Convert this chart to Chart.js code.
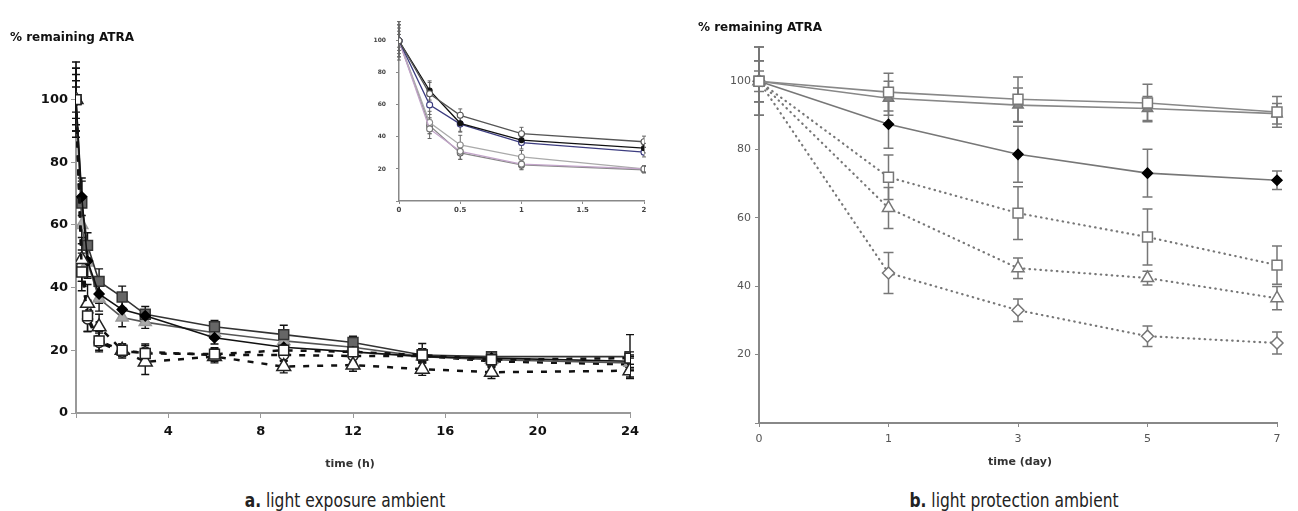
<!DOCTYPE html>
<html>
<head>
<meta charset="utf-8">
<script src="https://cdn.jsdelivr.net/npm/chart.js@4"></script>
<style>
  body { margin: 0; background: #fff; }
  #wrap { position: relative; width: 1298px; height: 511px; background: #fff; overflow: hidden; }
  canvas { position: absolute; }
  .lbl { position: absolute; font-family: "DejaVu Sans", sans-serif; font-weight: bold; color: #111; white-space: nowrap; }
  .mid { transform: translate(-50%, -50%); }
  .cap { position: absolute; font-family: "Liberation Sans Narrow", "DejaVu Sans Condensed", sans-serif; font-size: 20px; color: #222; white-space: nowrap; transform: translate(-50%, -50%) scaleX(0.86); }
</style>
</head>
<body>
<div id="wrap">
  <canvas id="chartA" width="660" height="480" style="left:0;top:0"></canvas>
  <canvas id="inset" width="295" height="215" style="left:360px;top:8px"></canvas>
  <canvas id="chartB" width="608" height="480" style="left:690px;top:0"></canvas>

  <div class="lbl" style="left:10px;top:30px;font-size:12px">% remaining ATRA</div>
  <div class="lbl" style="left:698px;top:20px;font-size:12px">% remaining ATRA</div>
  <div class="lbl mid" style="left:350px;top:463px;font-size:11px;color:#333">time (h)</div>
  <div class="lbl mid" style="left:1020px;top:461px;font-size:11px;color:#333">time (day)</div>
  <div class="cap" style="left:345px;top:500px"><b>a.</b> light exposure ambient</div>
  <div class="cap" style="left:1014px;top:500px"><b>b.</b> light protection ambient</div>
</div>

<script>
// panel a: light exposure, time in hours
const hours = [0, 0.25, 0.5, 1, 2, 3, 6, 9, 12, 15, 18, 24];
const aSquare   = [100, 67, 53.5, 42, 37, 31.5, 27.5, 25, 22.5, 18.5, 18, 18];
const aDiamond  = [100, 69, 48.5, 38, 33, 31, 24, 21, 19.5, 18, 17.5, 16.5];
const aTriangle = [100, 60, 48, 36.5, 30.5, 29, 25.6, 23, 21, 18, 17, 16];
const aOpenSq   = [100, 45, 31, 23, 20, 19, 18.8, 20, 19.5, 18.5, 17, 17.5];
const aOpenTri  = [100, 49, 35, 27.5, 20, 16.3, 18, 14.8, 15.3, 14, 13, 13.5];
const aOpenCirc = [100, 47, 30, 22.5, 19.5, 19.5, 18.5, 18.5, 18.2, 18.2, 16.5, 15.5];
const aSquareErr   = [12, 7, 4, 4, 3.5, 2.5, 2, 3, 2, 2, 1.5, 7];
const aDiamondErr  = [10, 6, 5, 3, 3, 2, 2, 2, 2, 2, 1.5, 2];
const aTriangleErr = [8, 6, 5, 4, 3, 2, 2, 2, 1.5, 2, 1.5, 2];
const aOpenSqErr   = [6, 6, 5, 3, 2, 3, 2, 2, 2, 2, 2, 2];
const aOpenTriErr  = [10, 7, 6, 4, 2, 4, 2, 2, 2, 2, 2, 2];
const aOpenCircErr = [4, 5, 4, 3, 2, 2, 2, 2, 2, 4, 2, 2];
const aXTicks = [0, 4, 8, 12, 16, 20, 24];
const insetHours = 5; // inset shows the first 0..2 h points

// panel b: light protection, time in days
const days = ['0', '1', '3', '5', '7'];
const bSquare   = [100, 96.8, 94.7, 93.6, 91];
const bTriangle = [100, 95, 93, 92, 90.5];
const bDiamond  = [100, 87.4, 78.6, 73.1, 71];
const bOpenSq   = [100, 71.9, 61.4, 54.4, 46.2];
const bOpenTri  = [100, 62.9, 45.3, 42.4, 36.5];
const bOpenDia  = [100, 43.9, 33, 25.4, 23.4];
const bSquareErr   = [10, 5.5, 6.5, 5.5, 4.5];
const bTriangleErr = [6, 5, 5, 3.5, 3];
const bDiamondErr  = [3, 7, 8.2, 7, 2.7];
const bOpenSqErr   = [6, 6.5, 7.7, 8.2, 5.6];
const bOpenTriErr  = [6, 6, 3, 2, 3.4];
const bOpenDiaErr  = [10, 6, 3.3, 3, 3.2];

const errorBars = {
  id: 'errorBars',
  beforeDatasetsDraw(chart, args, opts) {
    const ctx = chart.ctx, ys = chart.scales.y;
    chart.data.datasets.forEach((ds, i) => {
      if (!ds.errors) return;
      const meta = chart.getDatasetMeta(i);
      ctx.save();
      ctx.strokeStyle = ds.errColor || opts.color;
      ctx.lineWidth = opts.width;
      meta.data.forEach((pt, j) => {
        const raw = ds.data[j];
        const v = typeof raw === 'object' ? raw.y : raw;
        const e = ds.errors[j];
        if (!e) return;
        const top = ys.getPixelForValue(v + e), bot = ys.getPixelForValue(v - e);
        ctx.beginPath();
        ctx.moveTo(pt.x, top); ctx.lineTo(pt.x, bot);
        ctx.moveTo(pt.x - opts.cap, top); ctx.lineTo(pt.x + opts.cap, top);
        ctx.moveTo(pt.x - opts.cap, bot); ctx.lineTo(pt.x + opts.cap, bot);
        ctx.stroke();
      });
      ctx.restore();
    });
  }
};

const pts = (xs, ys, n) => ys.slice(0, n || ys.length).map((y, i) => ({ x: xs[i], y }));

function mk(data, errors, line, shape, radius, fill, border, dash, extra) {
  return Object.assign({
    data, errors,
    borderColor: line, borderWidth: 1.6, borderDash: dash || [],
    pointStyle: shape, pointRadius: radius, pointHoverRadius: radius,
    pointBackgroundColor: fill, pointBorderColor: border, pointBorderWidth: 1.5,
    tension: 0, fill: false
  }, extra || {});
}

const dashA = [6, 8];
new Chart(document.getElementById('chartA'), {
  type: 'line',
  data: {
    datasets: [
      mk(pts(hours, aOpenSq), aOpenSqErr, '#111', 'rect', 7, '#fff', '#222', dashA, { borderWidth: 2.5 }),
      mk(pts(hours, aOpenTri), aOpenTriErr, '#111', 'triangle', 8, '#fff', '#222', dashA, { borderWidth: 2.5 }),
      mk(pts(hours, aDiamond), aDiamondErr, '#111', 'rectRot', 5, '#000', '#000'),
      mk(pts(hours, aSquare), aSquareErr, '#333', 'rect', 7, '#666', '#333'),
      mk(pts(hours, aTriangle), aTriangleErr, '#555', 'triangle', 7, '#aaa', '#999'),
      mk(pts(hours, aOpenCirc), aOpenCircErr, '#111', 'circle', 5, '#fff', '#222', dashA, { borderWidth: 2.5 })
    ]
  },
  options: {
    responsive: false, animation: false, devicePixelRatio: 1,
    layout: { padding: { left: 0, right: 30, top: 62, bottom: 0 } },
    plugins: { legend: { display: false }, tooltip: { enabled: false },
      errorBars: { color: '#111', width: 1.4, cap: 4 } },
    scales: {
      x: {
        type: 'linear', min: 0, max: 24,
        afterBuildTicks: s => { s.ticks = aXTicks.map(v => ({ value: v })); },
        afterFit: s => { s.height = 67; },
        ticks: { callback: v => v === 0 ? '' : v, color: '#111', font: { family: 'DejaVu Sans', size: 13, weight: 'bold' }, padding: 6, maxRotation: 0 },
        grid: { display: true, drawOnChartArea: false, tickLength: 5, color: '#999' },
        border: { color: '#999', width: 2 }
      },
      y: {
        min: 0, max: 112,
        afterBuildTicks: s => { s.ticks = s.ticks.filter(t => t.value % 20 === 0); },
        afterFit: s => { s.width = 76; },
        ticks: { stepSize: 20, color: '#111', font: { family: 'DejaVu Sans', size: 13, weight: 'bold' }, padding: 3 },
        grid: { display: true, drawOnChartArea: false, tickLength: 5, color: '#999' },
        border: { color: '#999', width: 2 }
      }
    }
  },
  plugins: [errorBars]
});

new Chart(document.getElementById('inset'), {
  type: 'line',
  data: {
    datasets: [
      mk(pts(hours, aSquare, insetHours), aSquareErr, '#555', 'circle', 3, '#fff', '#555'),
      mk(pts(hours, aDiamond, insetHours), aDiamondErr, '#111', 'circle', 2.5, '#111', '#111'),
      mk(pts(hours, aTriangle, insetHours), aTriangleErr, '#3d3d80', 'circle', 3, '#fff', '#3d3d80'),
      mk(pts(hours, aOpenSq, insetHours), aOpenSqErr, '#c2a4c9', 'circle', 3, '#fff', '#777'),
      mk(pts(hours, aOpenTri, insetHours), aOpenTriErr, '#aaa', 'circle', 3, '#fff', '#888'),
      mk(pts(hours, aOpenCirc, insetHours), aOpenCircErr, '#888', 'circle', 3, '#fff', '#666')
    ].map(d => Object.assign(d, { borderWidth: 1.3, pointBorderWidth: 1.1, errColor: '#666' }))
  },
  options: {
    responsive: false, animation: false, devicePixelRatio: 1,
    layout: { padding: { left: 0, right: 11, top: 7, bottom: 0 } },
    plugins: { legend: { display: false }, tooltip: { enabled: false },
      errorBars: { color: '#666', width: 1, cap: 2 } },
    scales: {
      x: {
        type: 'linear', min: 0, max: 2,
        afterFit: s => { s.height = 22; },
        ticks: { stepSize: 0.5, callback: v => String(v), color: '#444', font: { family: 'DejaVu Sans', size: 7, weight: 'bold' }, padding: 2, maxRotation: 0 },
        grid: { display: true, drawOnChartArea: false, tickLength: 3, color: '#888' },
        border: { color: '#888', width: 1.5 }
      },
      y: {
        min: 0, max: 112,
        afterBuildTicks: s => { s.ticks = s.ticks.filter(t => t.value % 20 === 0); },
        afterFit: s => { s.width = 39; },
        ticks: { stepSize: 20, callback: v => v === 0 ? '' : v, color: '#444', font: { family: 'DejaVu Sans', size: 6, weight: 'bold' }, padding: 10 },
        grid: { display: true, drawOnChartArea: false, tickLength: 3, color: '#888' },
        border: { color: '#888', width: 1.5 }
      }
    }
  },
  plugins: [errorBars]
});

const dotB = [0.5, 5];
const dotted = { borderWidth: 2.2, borderCapStyle: 'round' };
new Chart(document.getElementById('chartB'), {
  type: 'line',
  data: {
    labels: days,
    datasets: [
      mk(bSquare, bSquareErr, '#888', 'rect', 7, '#fff', '#777'),
      mk(bTriangle, bTriangleErr, '#888', 'triangle', 6, '#888', '#777'),
      mk(bDiamond, bDiamondErr, '#777', 'rectRot', 5, '#000', '#000'),
      mk(bOpenSq, bOpenSqErr, '#777', 'rect', 7, '#fff', '#777', dotB, dotted),
      mk(bOpenTri, bOpenTriErr, '#777', 'triangle', 7, '#fff', '#777', dotB, dotted),
      mk(bOpenDia, bOpenDiaErr, '#777', 'rectRot', 6, '#fff', '#777', dotB, dotted)
    ]
  },
  options: {
    responsive: false, animation: false, devicePixelRatio: 1,
    layout: { padding: { left: 0, right: 21, top: 47, bottom: 0 } },
    plugins: { legend: { display: false }, tooltip: { enabled: false },
      errorBars: { color: '#777', width: 1.5, cap: 5 } },
    scales: {
      x: {
        type: 'category', offset: false,
        afterFit: s => { s.height = 57; },
        ticks: { color: '#555', font: { family: 'DejaVu Sans', size: 11 }, padding: 6, maxRotation: 0 },
        grid: { display: true, drawOnChartArea: false, tickLength: 4, color: '#888' },
        border: { color: '#888', width: 2 }
      },
      y: {
        min: 0, max: 110,
        afterBuildTicks: s => { s.ticks = s.ticks.filter(t => t.value % 20 === 0); },
        afterFit: s => { s.width = 69; },
        ticks: { stepSize: 20, callback: v => v === 0 ? '' : v, color: '#555', font: { family: 'DejaVu Sans', size: 11 }, padding: 4 },
        grid: { display: true, drawOnChartArea: false, tickLength: 4, color: '#888' },
        border: { color: '#888', width: 2 }
      }
    }
  },
  plugins: [errorBars]
});
</script>
</body>
</html>
